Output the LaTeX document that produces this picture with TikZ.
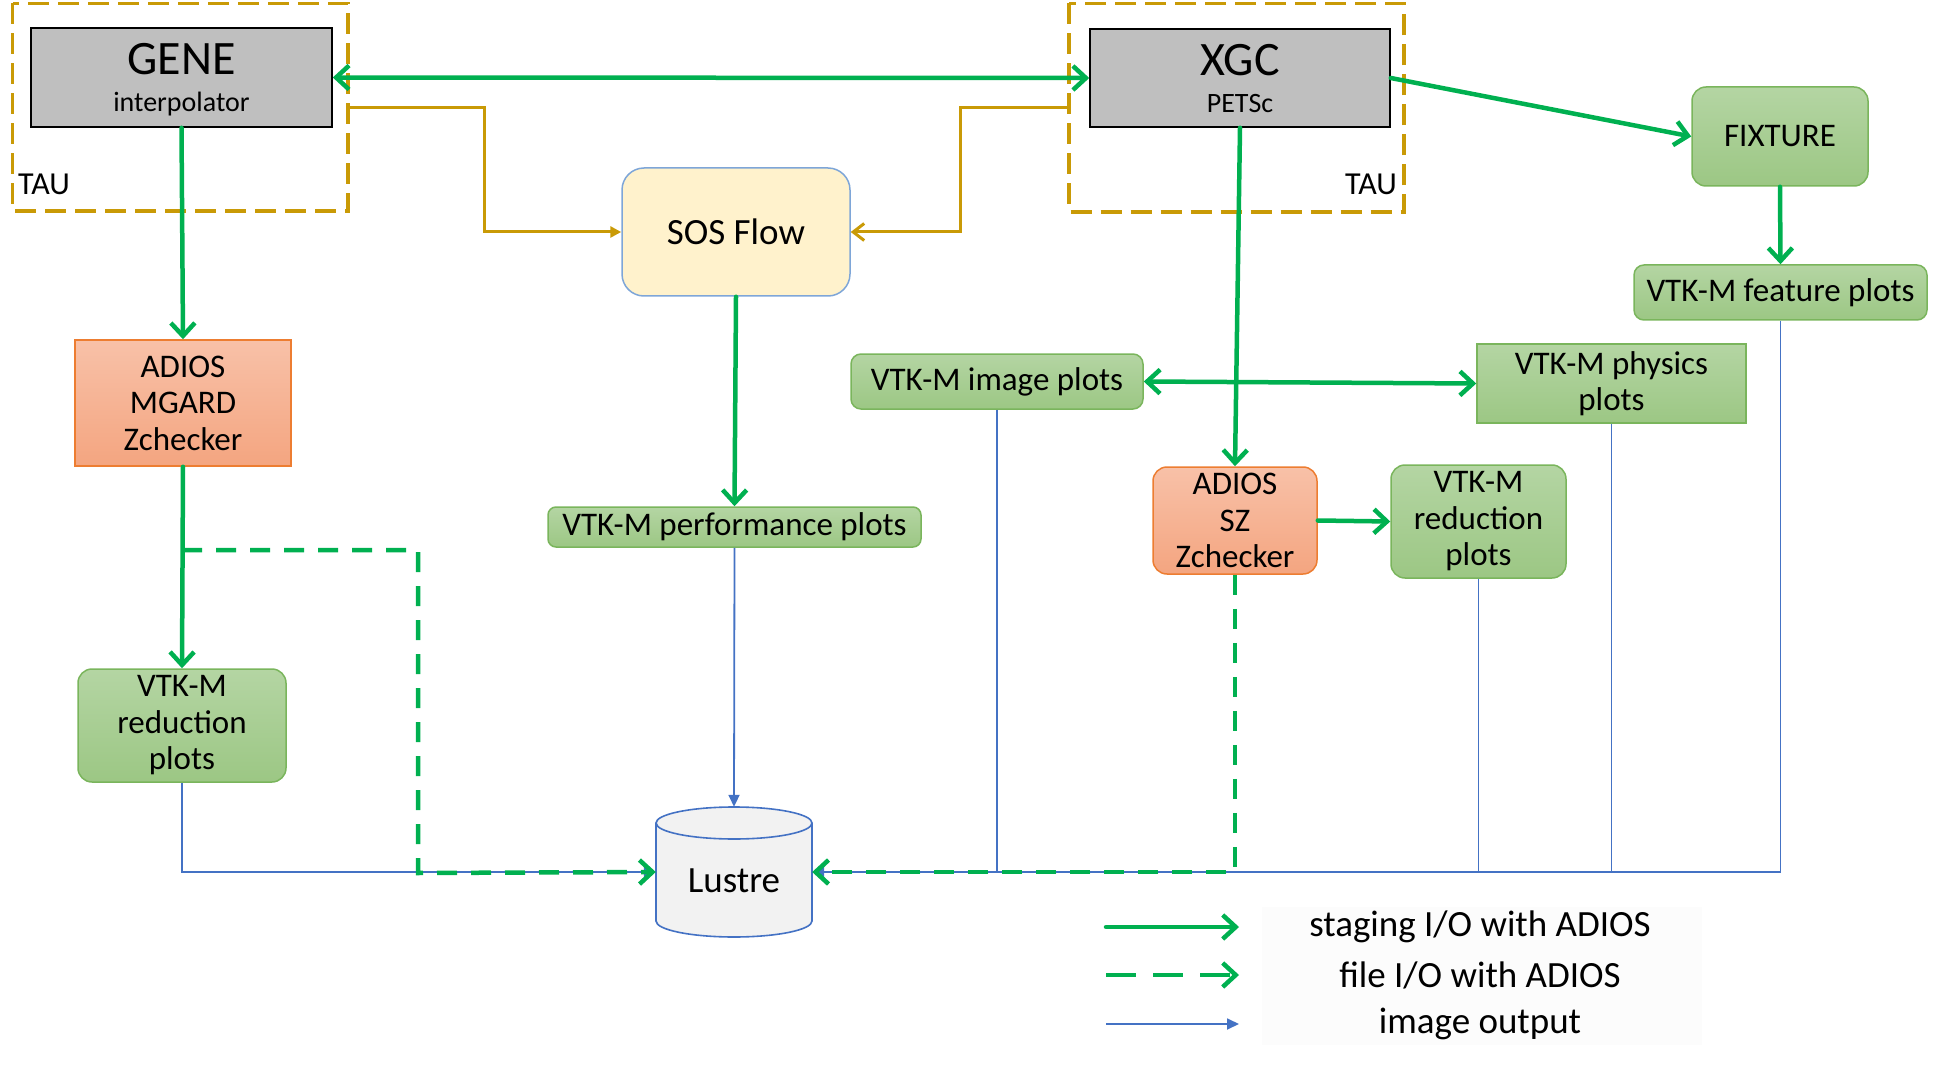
\documentclass[tikz,border=0pt]{standalone}
\usepackage{fontspec}
\setmainfont{Carlito}
\usetikzlibrary{arrows.meta}
\definecolor{stgreen}{HTML}{00B050}
\definecolor{imgblue}{HTML}{4472C4}
\definecolor{taugold}{HTML}{C99A06}
\definecolor{grntop}{HTML}{B4D5A3}
\definecolor{grnbot}{HTML}{9CC784}
\definecolor{grnborder}{HTML}{7AB55C}
\definecolor{orgtop}{HTML}{F8C1A8}
\definecolor{orgbot}{HTML}{F4A580}
\definecolor{orgborder}{HTML}{ED7D31}
\definecolor{boxgray}{HTML}{BFBFBF}
\definecolor{sosfill}{HTML}{FFF2CC}
\definecolor{sosborder}{HTML}{7EA6D8}
\definecolor{lustrefill}{HTML}{F2F2F2}
\definecolor{legendbg}{HTML}{FCFCFC}
\begin{document}
\begin{tikzpicture}[x=1pt,y=-1pt,
  txt/.style={inner sep=0pt, align=center, font=\fontsize{33}{36.5}\selectfont},
  greenbox/.style={txt, draw=grnborder, line width=1.5pt, top color=grntop, bottom color=grnbot, rounded corners=14pt},
  greensq/.style={txt, draw=grnborder, line width=1.5pt, top color=grntop, bottom color=grnbot},
  orangebox/.style={txt, draw=orgborder, line width=1.5pt, top color=orgtop, bottom color=orgbot},
  orangernd/.style={orangebox, rounded corners=14pt},
  graybox/.style={inner sep=0pt, draw=black, line width=1.5pt, fill=boxgray},
  taubox/.style={draw=taugold, line width=3.5pt, dash pattern=on 21pt off 9pt},
  staging/.style={draw=stgreen, line width=4.5pt, line cap=round, -{Straight Barb[length=13pt,width=24pt]}},
  stagingtwo/.style={draw=stgreen, line width=4.5pt, {Straight Barb[length=13pt,width=24pt]}-{Straight Barb[length=13pt,width=24pt]}},
  fileio/.style={draw=stgreen, line width=4.5pt, dash pattern=on 20pt off 14pt, -{Straight Barb[length=13pt,width=24pt]}},
  imgout/.style={draw=imgblue, line width=1.8pt, -{Triangle[length=12pt,width=11pt]}},
  imgline/.style={draw=imgblue, line width=1.8pt},
  tauflow/.style={draw=taugold, line width=3pt, -{Triangle[length=11pt,width=11pt]}},
  tauflowb/.style={draw=taugold, line width=3pt, -{Straight Barb[length=11pt,width=17pt]}},
]
\useasboundingbox (0,0) rectangle (1936,1067);

% TAU dashed boxes
\draw[taubox] (12.5,3.5) rectangle (348,211);
\draw[taubox] (1069,3.5) rectangle (1404,212);
\node[txt, anchor=west, font=\fontsize{32}{34}\selectfont] (taul) at (18,184) {TAU};
\node[txt, anchor=east, font=\fontsize{32}{34}\selectfont] (taur) at (1397,184) {TAU};

% main nodes
\node[graybox, minimum width=301pt, minimum height=99pt] (gene) at (181.5,77.5) {};
\node[txt, font=\fontsize{48}{50}\selectfont] (genet) at (181.5,59) {GENE};
\node[txt, font=\fontsize{28}{30}\selectfont] (genes) at (181.5,104) {interpolator};

\node[graybox, minimum width=300pt, minimum height=98pt] (xgc) at (1240,78) {};
\node[txt, font=\fontsize{48}{50}\selectfont] (xgct) at (1240,60) {XGC};
\node[txt, font=\fontsize{28}{30}\selectfont] (xgcs) at (1240,104) {PETSc};

\node[txt, draw=sosborder, line width=1.5pt, fill=sosfill, rounded corners=22pt,
      minimum width=228pt, minimum height=128pt] (sos) at (736,232) {};
\node[txt, font=\fontsize{37}{40}\selectfont] (sost) at (736,232) {SOS Flow};

\node[orangebox, minimum width=216pt, minimum height=126pt] (mgard) at (183,403) {ADIOS\\MGARD\\Zchecker};
\node[greenbox, minimum width=208pt, minimum height=113pt] (redl) at (182,725.5) {VTK-M\\reduction\\plots};
\node[greenbox, rounded corners=8pt, minimum width=373pt, minimum height=40pt] (perf) at (734.5,527) {VTK-M performance plots};
\node[greenbox, rounded corners=10pt, minimum width=292pt, minimum height=55pt] (img) at (997,381.5) {VTK-M image plots};
\node[greensq, minimum width=269pt, minimum height=79pt] (phys) at (1611.5,383.5) {VTK-M physics\\plots};
\node[orangernd, minimum width=164pt, minimum height=107pt] (sz) at (1235,520.5) {ADIOS\\SZ\\Zchecker};
\node[greenbox, minimum width=175pt, minimum height=113pt] (redr) at (1478.5,521.5) {VTK-M\\reduction\\plots};
\node[greenbox, minimum width=176pt, minimum height=99pt] (fixture) at (1780,136.5) {FIXTURE};
\node[greenbox, rounded corners=10pt, minimum width=293pt, minimum height=55pt] (feat) at (1780.5,292.5) {VTK-M feature plots};

% Lustre cylinder
\fill[lustrefill] (656,823) -- (656,921) arc[start angle=180, end angle=360, x radius=78pt, y radius=16pt] -- (812,823) -- cycle;
\draw[imgblue, line width=1.6pt] (656,823) -- (656,921) arc[start angle=180, end angle=360, x radius=78pt, y radius=16pt] -- (812,823);
\filldraw[fill=lustrefill, draw=imgblue, line width=1.6pt] (734,823) ellipse [x radius=78pt, y radius=16pt];
\node[inner sep=0pt, minimum width=156pt, minimum height=130pt] (lustre) at (734,872) {};
\node[txt, font=\fontsize{37}{40}\selectfont] (lustret) at (734,881) {Lustre};

% gold TAU flows
\coordinate (gl0) at (348,108);
\coordinate (gl1) at (484,232);
\coordinate (gr0) at (1069,108);
\coordinate (gr1) at (960,232);
\draw[tauflow] (gl0) -| (gl1) -- (sos.west);
\draw[tauflowb] (gr0) -| (gr1) -- (sos.east);

% image output (blue)
\draw[imgout] (redl.south) |- (lustre.west);
\draw[imgout] (perf.south) -- (lustre.north);
\draw[imgline] (img.south) -- (img.south |- lustre.east);
\draw[imgline] (redr.south) -- (redr.south |- lustre.east);
\draw[imgline] (phys.south) -- (phys.south |- lustre.east);
\draw[imgout] (feat.south) |- (lustre.east);

% file I/O (dashed green)
\coordinate (fb0) at (182,550);
\coordinate (fb1) at (418,873);
\draw[fileio] (fb0) -| (fb1) -- (lustre.west);
\draw[fileio] (sz.south) |- (lustre.east);

% staging (green)
\draw[stagingtwo] (gene.east) -- (xgc.west);
\draw[staging] (gene.south) -- (mgard.north);
\draw[staging] (mgard.south) -- (redl.north);
\draw[staging] (xgc.east) -- (fixture.west);
\draw[staging] (fixture.south) -- (feat.north);
\draw[staging] (sos.south) -- (perf.north);
\draw[staging] (xgc.south) -- (sz.north);
\draw[stagingtwo] (img.east) -- (phys.west);
\draw[staging] (sz.east) -- (redr.west);

% legend
\fill[legendbg] (1262,907) rectangle (1702,1045);
\coordinate (la0) at (1106,927); \coordinate (la1) at (1239,927);
\coordinate (lb0) at (1106,975); \coordinate (lb1) at (1239,975);
\coordinate (lc0) at (1106,1024); \coordinate (lc1) at (1239,1024);
\draw[staging] (la0) -- (la1);
\draw[fileio, dash pattern=on 30pt off 17pt] (lb0) -- (lb1);
\draw[imgout] (lc0) -- (lc1);
\node[txt, font=\fontsize{37}{40}\selectfont] (lta) at (1480,927) {staging I/O with ADIOS};
\node[txt, font=\fontsize{37}{40}\selectfont] (ltb) at (1480,975) {file I/O with ADIOS};
\node[txt, font=\fontsize{37}{40}\selectfont] (ltc) at (1480,1024) {image output};
\end{tikzpicture}
\end{document}
